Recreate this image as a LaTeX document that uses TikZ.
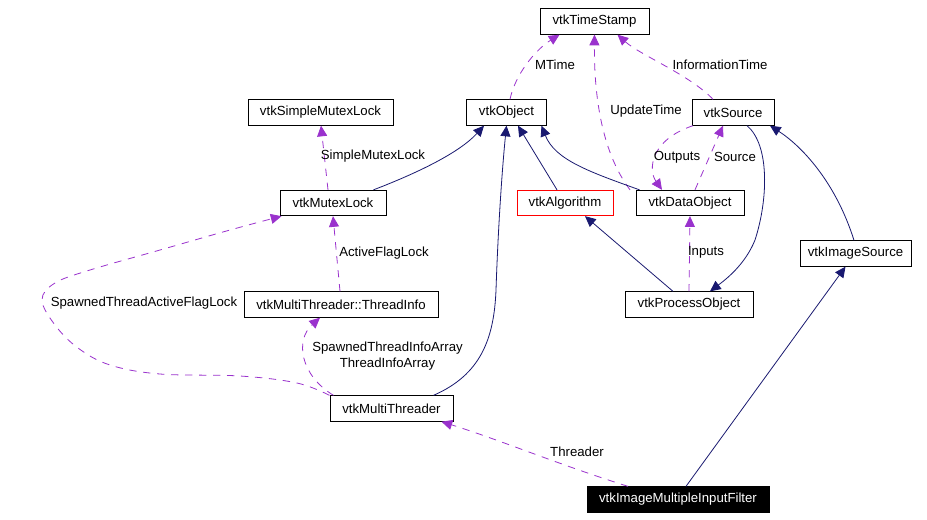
\documentclass[tikz,border=0pt]{standalone}
\usepackage{fontspec}
\setmainfont{Liberation Sans}
\usetikzlibrary{arrows.meta,calc}
\definecolor{usecol}{HTML}{9A32CD}
\definecolor{inhcol}{HTML}{191970}
\definecolor{algred}{HTML}{FF0000}
\begin{document}
\begin{tikzpicture}[x=0.75pt,y=-0.75pt,
  txt/.style={font=\fontsize{9.9}{11.5}\selectfont},
  cls/.style={txt, draw=black, fill=white, line width=0.75pt, inner sep=0pt, minimum height=19pt},
  usedge/.style={draw=usecol, line width=0.6pt, dash pattern=on 5.5pt off 5pt, -{Triangle[length=8pt,width=7.5pt]}},
  inhedge/.style={draw=inhcol, line width=0.6pt, -{Triangle[length=8pt,width=7.5pt]}},
  lbl/.style={txt, inner sep=0pt, align=center}]
\fill[white] (0,0) rectangle (927,519);
\useasboundingbox (0,0) rectangle (927,519);
% nodes
\node[cls, minimum width=81.75pt] (ts) at (594.5,21.5) {vtkTimeStamp};
\node[cls, minimum width=60pt] (obj) at (506.5,112.5) {vtkObject};
\node[cls, minimum width=61.5pt] (src) at (733,112.5) {vtkSource};
\node[cls, minimum width=108.75pt] (sml) at (320.5,112.5) {vtkSimpleMutexLock};
\node[cls, minimum width=79.5pt] (ml) at (333,203) {vtkMutexLock};
\node[cls, minimum width=72pt, draw=algred] (alg) at (565,203) {vtkAlgorithm};
\node[cls, minimum width=81pt] (do) at (690,203) {vtkDataObject};
\node[cls, minimum width=145.5pt] (ti) at (341,304.5) {vtkMultiThreader::ThreadInfo};
\node[cls, minimum width=96pt] (po) at (689,304.5) {vtkProcessObject};
\node[cls, minimum width=83.25pt] (is) at (855.5,253.5) {vtkImageSource};
\node[cls, minimum width=92.25pt] (mt) at (391.5,408.5) {vtkMultiThreader};
\node[cls, minimum width=136.5pt, fill=black, text=white] (f) at (678,499.5) {vtkImageMultipleInputFilter};
% usage edges
\draw[usedge] ($(obj.north)+(3.5,0)$) .. controls (515,75) and (535,50) .. ($(ts.south)+(-35,0)$);
\draw[usedge] ($(do.north)+(-60,0)$) .. controls (600,150) and (594,90) .. (ts.south);
\draw[usedge] ($(src.north)+(-20,0)$) .. controls (690,75) and (640,55) .. ($(ts.south)+(23,0)$);
\draw[usedge] ($(src.south)+(-40,0)$) .. controls (650,140) and (648,170) .. ($(do.north)+(-28,0)$);
\draw[usedge] ($(do.north)+(5,0)$) -- ($(src.south)+(-10,0)$);
\draw[usedge] ($(ml.north)+(-5,0)$) -- ($(sml.south)+(0.5,0)$);
\draw[usedge] ($(ti.north)+(-1,0)$) -- (ml.south);
\draw[usedge] plot[smooth, tension=0.6] coordinates {($(mt.north)+(-62,0)$) (297,383) (240,376) (160,374) (110,365) (78,348) (55,325) (42,300) (55,283) (90,270) (160,250) (230,230) ($(ml.south west)+(2,0)$)};
\draw[usedge] ($(mt.north)+(-58,0)$) .. controls (300,375) and (295,340) .. ($(ti.south)+(-21,0)$);
\draw[usedge] ($(f.north)+(-50,0)$) .. controls (560,465) and (500,440) .. ($(mt.south)+(50,0)$);
\draw[usedge] (po.north) -- (do.south);
% inheritance edges
\draw[inhedge] ($(ml.north east)+(-13,0)$) .. controls (420,172) and (460,152) .. ($(obj.south)+(-22.5,0)$);
\draw[inhedge] ($(mt.north east)+(-20,0)$) .. controls (480,375) and (494,340) .. (496,290) .. controls (498,230) and (502,170) .. (obj.south);
\draw[inhedge] ($(alg.north)+(-8,0)$) -- ($(obj.south)+(11.5,0)$);
\draw[inhedge] ($(do.north west)+(4,0)$) .. controls (590,172) and (555,160) .. ($(obj.south)+(35,0)$);
\draw[inhedge] ($(po.north)+(-16,0)$) -- ($(alg.south)+(20,0)$);
\draw[inhedge] ($(src.south)+(14,0)$) .. controls (770,145) and (768,200) .. (755,240) .. controls (745,265) and (725,280) .. ($(po.north)+(21,0)$);
\draw[inhedge] ($(is.north)+(-1.5,0)$) .. controls (835,180) and (800,145) .. ($(src.south)+(37,0)$);
\draw[inhedge] ($(f.north)+(8,0)$) -- ($(is.south)+(-10,0)$);
% labels
\node[lbl] (lmt) at (555,65) {MTime};
\node[lbl] (lut) at (646,111) {UpdateTime};
\node[lbl] (lit) at (720,65) {InformationTime};
\node[lbl] (lout) at (677,157) {Outputs};
\node[lbl] (lsrc) at (735,157) {Source};
\node[lbl] (lsml) at (373,156) {SimpleMutexLock};
\node[lbl] (lafl) at (384,253) {ActiveFlagLock};
\node[lbl] (lstafl) at (144,303) {SpawnedThreadActiveFlagLock};
\node[lbl] (lstia) at (387.5,356) {SpawnedThreadInfoArray\\ThreadInfoArray};
\node[lbl] (lthr) at (577,452) {Threader};
\node[lbl] (linp) at (706,252) {Inputs};
\end{tikzpicture}
\end{document}
